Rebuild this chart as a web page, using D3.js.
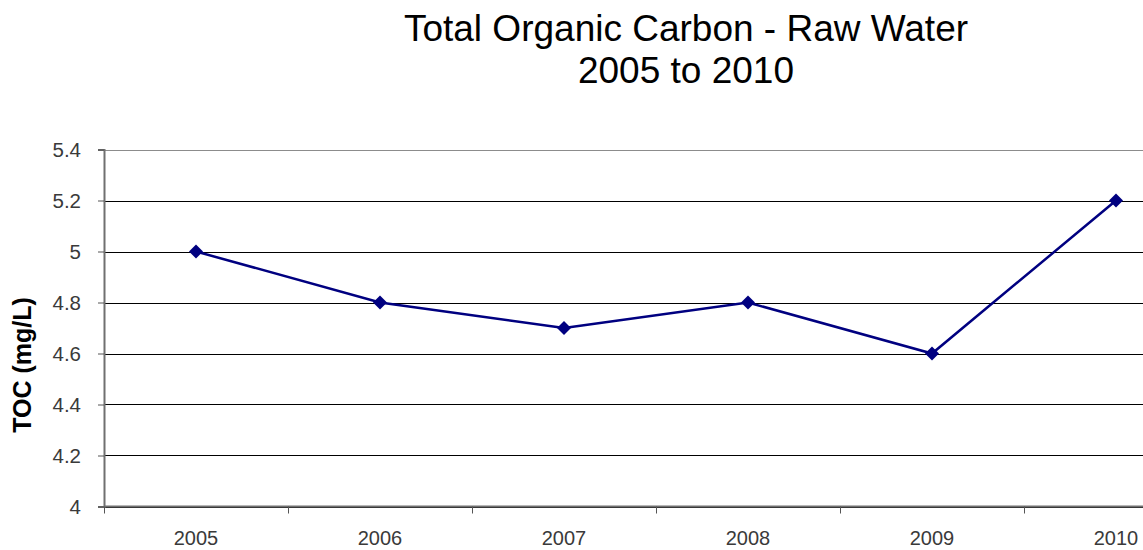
<!DOCTYPE html>
<html>
<head>
<meta charset="utf-8">
<script src="https://cdn.jsdelivr.net/npm/d3@7"></script>
<style>
  html, body { margin: 0; padding: 0; background: #fff; overflow: hidden; }
  svg { display: block; font-family: "Liberation Sans", Arial, sans-serif; }
</style>
</head>
<body>
<svg id="chart" width="1143" height="550"></svg>
<script>
// Annual raw-water TOC readings
const years = ["2005", "2006", "2007", "2008", "2009", "2010"];
const tocValues = [5.0, 4.8, 4.7, 4.8, 4.6, 5.2];
const yTicks = [4, 4.2, 4.4, 4.6, 4.8, 5, 5.2, 5.4];
const titleLines = ["Total Organic Carbon - Raw Water", "2005 to 2010"];
const yTitle = "TOC (mg/L)";

const svg = d3.select("#chart");

const plot = { left: 104, top: 149.5, bottom: 506.5, band: 184 };

const x = d3.scaleBand()
  .domain(years)
  .range([plot.left, plot.left + plot.band * years.length])
  .paddingInner(0).paddingOuter(0);

const y = d3.scaleLinear()
  .domain([4, 5.4])
  .range([plot.bottom, plot.top]);

// Title
svg.append("g").selectAll("text")
  .data(titleLines)
  .join("text")
  .attr("x", 686)
  .attr("y", (d, i) => 41 + i * 42)
  .attr("text-anchor", "middle")
  .attr("font-size", 37)
  .attr("fill", "#000")
  .text(d => d);

// Horizontal gridlines
svg.append("g").selectAll("line")
  .data(yTicks)
  .join("line")
  .attr("x1", plot.left)
  .attr("x2", x.range()[1])
  .attr("y1", d => Math.round(y(d)) + 0.5)
  .attr("y2", d => Math.round(y(d)) + 0.5)
  .attr("stroke", (d, i) => i === yTicks.length - 1 ? "#8c8c8c" : "#000")
  .attr("stroke-width", 1);

// Y axis
const yAxis = svg.append("g")
  .attr("transform", `translate(${plot.left},0)`)
  .call(d3.axisLeft(y).tickValues(yTicks).tickSize(6)
    .tickFormat(d => d3.format("")(+d.toFixed(1))));
yAxis.select(".domain").attr("stroke", "#707070").attr("stroke-width", 2);
yAxis.selectAll(".tick line").attr("stroke", "#555");
yAxis.selectAll(".tick text")
  .attr("font-size", 20.5)
  .attr("fill", "#3a3a3a")
  .attr("font-family", "Liberation Sans, Arial, sans-serif")
  .attr("x", -23)
  .attr("dy", "0.35em");

// X axis: ticks at category boundaries, labels at centers
const xAxisG = svg.append("g");
xAxisG.append("line")
  .attr("x1", plot.left).attr("x2", x.range()[1])
  .attr("y1", plot.bottom).attr("y2", plot.bottom)
  .attr("stroke", "#707070").attr("stroke-width", 2);
xAxisG.selectAll("line.tick")
  .data(years)
  .join("line")
  .attr("class", "tick")
  .attr("x1", d => x(d) + 0.5).attr("x2", d => x(d) + 0.5)
  .attr("y1", plot.bottom).attr("y2", plot.bottom + 7)
  .attr("stroke", "#555");
xAxisG.selectAll("text")
  .data(years)
  .join("text")
  .attr("x", d => x(d) + x.bandwidth() / 2)
  .attr("y", 545)
  .attr("text-anchor", "middle")
  .attr("font-size", 20)
  .attr("fill", "#3a3a3a")
  .text(d => d);

// Y axis title
svg.append("text")
  .attr("transform", "translate(31,365) rotate(-90)")
  .attr("text-anchor", "middle")
  .attr("font-size", 25)
  .attr("font-weight", "bold")
  .attr("fill", "#000")
  .text(yTitle);

// Series line
const pts = years.map((yr, i) => ({ yr, v: tocValues[i] }));
svg.append("path")
  .datum(pts)
  .attr("fill", "none")
  .attr("stroke", "#000080")
  .attr("stroke-width", 2.5)
  .attr("d", d3.line()
    .x(d => x(d.yr) + x.bandwidth() / 2)
    .y(d => y(d.v)));

// Diamond markers
svg.append("g").selectAll("path")
  .data(pts)
  .join("path")
  .attr("transform", d => `translate(${x(d.yr) + x.bandwidth() / 2},${y(d.v)})`)
  .attr("d", "M0,-7L7,0L0,7L-7,0Z")
  .attr("fill", "#000080");
</script>
</body>
</html>
